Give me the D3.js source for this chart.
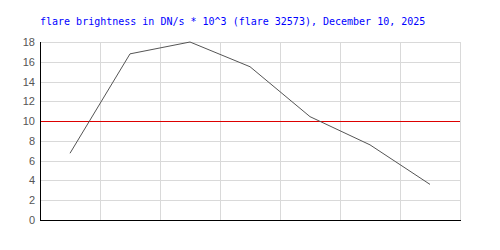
<!DOCTYPE html>
<html>
<head>
<meta charset="utf-8">
<script src="https://cdn.jsdelivr.net/npm/d3@7"></script>
<style>
  body { margin: 0; background: #fff; }
</style>
</head>
<body>
<svg id="chart" width="500" height="250"></svg>
<script>
const TITLE = "flare brightness in DN/s * 10^3 (flare 32573), December 10, 2025";
const categories = ["t1", "t2", "t3", "t4", "t5", "t6", "t7"];
const brightness = [6.75, 16.8, 18.0, 15.5, 10.45, 7.6, 3.6];
const yTicks = [0, 2, 4, 6, 8, 10, 12, 14, 16, 18];
const threshold = 10;

const WIDTH = 500;
const HEIGHT = 250;
const LEFT = 40;
const RIGHT = 460;
const TOP = 42;
const BOTTOM = 220;

const svg = d3.select("#chart");

const xScale = d3.scaleBand().domain(categories).range([LEFT, RIGHT]);
const yScale = d3.scaleLinear().domain([0, 18]).range([BOTTOM, TOP]);

// grid
svg.append("g")
  .selectAll("line")
  .data(yTicks)
  .enter()
  .append("line")
  .attr("x1", LEFT)
  .attr("x2", RIGHT)
  .attr("y1", (d) => Math.round(yScale(d)) + 0.5)
  .attr("y2", (d) => Math.round(yScale(d)) + 0.5)
  .attr("stroke", "#d9d9d9");

svg.append("g")
  .selectAll("line")
  .data(categories.concat(["end"]))
  .enter()
  .append("line")
  .attr("x1", (d, i) => Math.round(LEFT + i * xScale.bandwidth()) + 0.5)
  .attr("x2", (d, i) => Math.round(LEFT + i * xScale.bandwidth()) + 0.5)
  .attr("y1", TOP)
  .attr("y2", BOTTOM)
  .attr("stroke", "#d9d9d9");

// y axis labels
svg.append("g")
  .attr("transform", `translate(${LEFT}, 0)`)
  .call(d3.axisLeft(yScale).tickValues(yTicks).tickSize(0).tickPadding(5))
  .call((g) => g.select(".domain").remove())
  .selectAll("text")
  .attr("fill", "#555")
  .style("font-family", "'Liberation Sans', Arial, sans-serif")
  .style("font-size", "11px");

// threshold line
svg.append("line")
  .attr("x1", LEFT)
  .attr("x2", RIGHT)
  .attr("y1", Math.round(yScale(threshold)) + 0.5)
  .attr("y2", Math.round(yScale(threshold)) + 0.5)
  .attr("stroke", "#dd0000");

// axes lines
svg.append("line")
  .attr("x1", LEFT + 0.5)
  .attr("x2", LEFT + 0.5)
  .attr("y1", TOP)
  .attr("y2", BOTTOM + 1)
  .attr("stroke", "#000");
svg.append("line")
  .attr("x1", LEFT)
  .attr("x2", RIGHT + 1)
  .attr("y1", BOTTOM + 0.5)
  .attr("y2", BOTTOM + 0.5)
  .attr("stroke", "#000");

const line = d3.line()
  .x((d, i) => xScale(categories[i]) + xScale.bandwidth() / 2)
  .y((d) => yScale(d));

svg.append("path")
  .datum(brightness)
  .attr("fill", "none")
  .attr("stroke", "#555")
  .attr("stroke-width", 1)
  .attr("d", line);

svg.append("text")
  .attr("x", LEFT)
  .attr("y", 25)
  .attr("fill", "#0000ff")
  .style("font-family", "'DejaVu Sans Mono', monospace")
  .style("font-size", "10px")
  .text(TITLE);
</script>
</body>
</html>
